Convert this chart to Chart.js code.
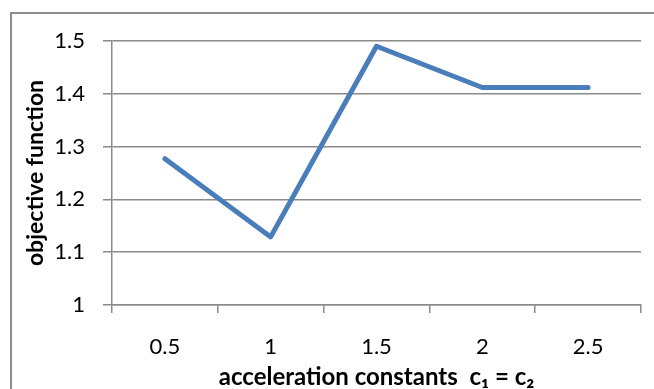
<!DOCTYPE html>
<html>
<head>
<meta charset="utf-8">
<script src="https://cdn.jsdelivr.net/npm/chart.js@4.4.1/dist/chart.umd.min.js"></script>
<style>
  html, body { margin: 0; padding: 0; background: #ffffff; }
  #wrap { position: relative; width: 654px; height: 389px; }
</style>
</head>
<body>
<div id="wrap"><canvas id="chart" width="654" height="389"></canvas></div>
<script>
// Acceleration constant settings (c1 = c2) and the resulting objective value
const categories = ['0.5', '1', '1.5', '2', '2.5'];
const objectiveValues = [1.277, 1.129, 1.490, 1.412, 1.412];
const yTickValues = [1, 1.1, 1.2, 1.3, 1.4, 1.5];
const xAxisTitle = 'acceleration constants  c\u2081 = c\u2082';
const yAxisTitle = 'objective function';

const FONT = 'Lato, "Open Sans", "Liberation Sans", sans-serif';
const GRID = '#8a8a8a';

// Outer frame around the chart
const framePlugin = {
  id: 'frame',
  beforeDraw(chart) {
    const ctx = chart.ctx;
    ctx.save();
    ctx.strokeStyle = '#8c8c8c';
    ctx.lineWidth = 2;
    ctx.strokeRect(11, 13, 700, 420);
    ctx.restore();
  }
};

new Chart(document.getElementById('chart'), {
  type: 'line',
  data: {
    labels: categories,
    datasets: [{
      data: objectiveValues,
      borderColor: '#4a7ebb',
      borderWidth: 5,
      borderCapStyle: 'round',
      borderJoinStyle: 'round',
      pointRadius: 0,
      pointHoverRadius: 0,
      tension: 0,
      fill: false
    }]
  },
  plugins: [framePlugin],
  options: {
    responsive: false,
    animation: false,
    layout: { padding: { top: 41, right: 13, left: 0, bottom: 0 } },
    plugins: {
      legend: { display: false },
      tooltip: { enabled: false }
    },
    scales: {
      x: {
        type: 'category',
        offset: true,
        grid: {
          offset: true,
          drawOnChartArea: false,
          drawTicks: true,
          tickLength: 8,
          color: GRID,
          lineWidth: 1.5
        },
        border: { display: true, color: GRID, width: 1.5 },
        ticks: {
          color: '#000000',
          padding: 21,
          maxRotation: 0,
          font: { family: FONT, size: 22 }
        },
        title: {
          display: true,
          text: xAxisTitle,
          color: '#000000',
          padding: { top: 0, bottom: 0 },
          font: { family: FONT, size: 24, weight: 'bold', lineHeight: 1 }
        },
        afterFit(scale) { scale.height = 84; }
      },
      y: {
        min: 1,
        max: 1.5,
        afterBuildTicks(scale) {
          scale.ticks = yTickValues.map(v => ({ value: v }));
        },
        grid: {
          color: GRID,
          lineWidth: 1.5,
          drawTicks: true,
          tickLength: 9
        },
        border: { display: true, color: GRID, width: 1.5 },
        ticks: {
          color: '#000000',
          padding: 18,
          font: { family: FONT, size: 22 },
          callback(value) { return String(Math.round(value * 10) / 10); }
        },
        title: {
          display: true,
          text: yAxisTitle,
          color: '#000000',
          padding: { top: 22, bottom: 0 },
          font: { family: FONT, size: 23, weight: 'bold', lineHeight: 1.2 }
        },
        afterFit(scale) { scale.width = 112; }
      }
    }
  }
});
</script>
</body>
</html>
